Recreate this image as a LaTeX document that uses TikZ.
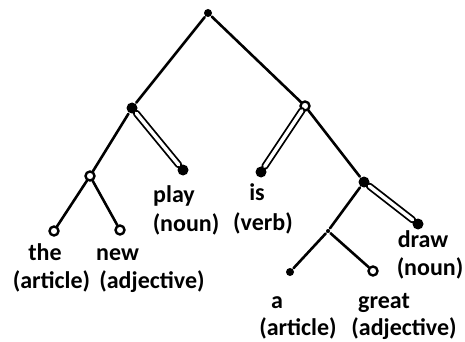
\documentclass[tikz,border=0pt]{standalone}
\usepackage{fontspec}
\setmainfont{Carlito}
\begin{document}
\begin{tikzpicture}[x=1pt,y=-1pt,
  line width=2.6pt, line cap=round,
  blob/.style={circle,fill=black,inner sep=0pt,minimum size=11pt},
  dot/.style={circle,fill=black,inner sep=0pt,minimum size=8pt},
  tiny/.style={circle,fill=black,inner sep=0pt,minimum size=4pt},
  ring/.style={circle,draw=black,fill=white,line width=2.4pt,inner sep=0pt,minimum size=9pt},
  dbl/.style={double=white,double distance=3.5pt,line width=1.8pt},
  lbl/.style={anchor=base,font=\bfseries\fontsize{24}{28}\selectfont,inner sep=0pt}]
\useasboundingbox (0,0) rectangle (465,342);
% tree nodes
\node[dot]  (root) at (208,13) {};
\node[blob] (L) at (132,108) {};
\node[ring] (R) at (305,106) {};
\node[ring] (LL) at (90,176) {};
\node[blob] (play) at (183,170) {};
\node[blob] (is) at (261,172) {};
\node[blob] (RR) at (364,182) {};
\node[ring] (the) at (54,231) {};
\node[ring] (new) at (120,230) {};
\node[tiny] (RRL) at (328,231) {};
\node[blob] (draw) at (418,224) {};
\node[dot]  (a) at (290,272) {};
\node[ring] (great) at (373,271) {};
% connectors
\draw (root) -- (L);
\draw (root) -- (R);
\draw (L) -- (LL);
\draw[dbl] (L) -- (play);
\draw[dbl] (R) -- (is);
\draw (R) -- (RR);
\draw (LL) -- (the);
\draw (LL) -- (new);
\draw (RR) -- (RRL);
\draw[dbl] (RR) -- (draw);
\draw (RRL) -- (a);
\draw (RRL) -- (great);
% labels
\node[lbl] (t1) at (45,260) {the};
\node[lbl] (t2) at (51.5,288) {(article)};
\node[lbl] (n1) at (117.5,260) {new};
\node[lbl] (n2) at (152,288) {(adjective)};
\node[lbl] (p1) at (174,202) {play};
\node[lbl] (p2) at (186,231) {(noun)};
\node[lbl] (i1) at (257,200) {is};
\node[lbl] (i2) at (263,230) {(verb)};
\node[lbl] (d1) at (423,247) {draw};
\node[lbl] (d2) at (430,275) {(noun)};
\node[lbl] (a1) at (277,308) {a};
\node[lbl] (a2) at (298,335) {(article)};
\node[lbl] (g1) at (384,308) {great};
\node[lbl] (g2) at (404,335) {(adjective)};
\end{tikzpicture}
\end{document}
